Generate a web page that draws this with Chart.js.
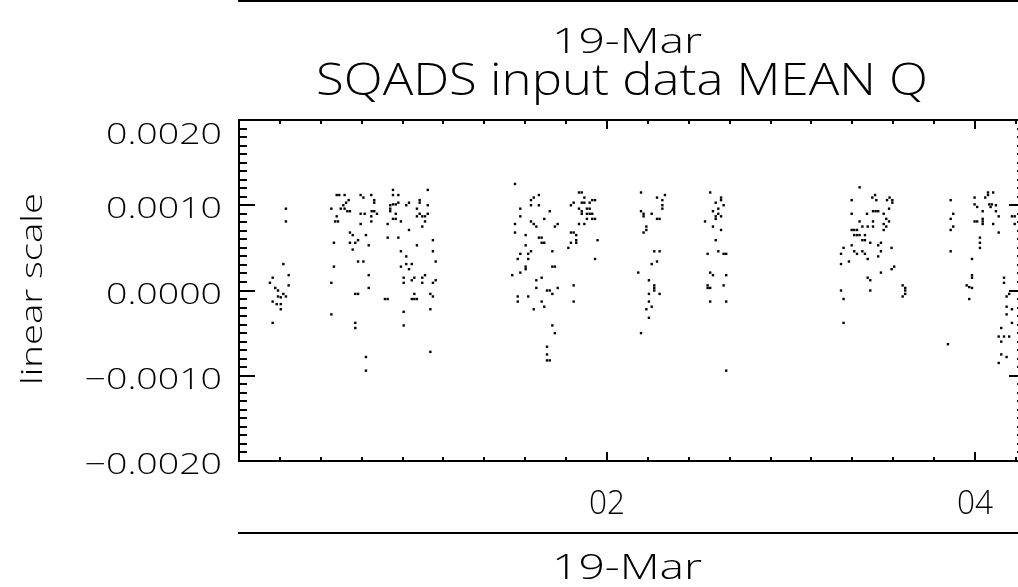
<!DOCTYPE html>
<html>
<head>
<meta charset="utf-8">
<title>SQADS input data MEAN Q</title>
<script src="https://cdn.jsdelivr.net/npm/chart.js@4.4.1/dist/chart.umd.min.js"></script>
<style>
  html, body { margin: 0; padding: 0; background: #fff; overflow: hidden; }
  #wrap { width: 1030px; height: 587px; }
</style>
</head>
<body>
<div id="wrap"><canvas id="chart" width="1030" height="587"></canvas></div>
<script>
const chartTitle = 'SQADS input data MEAN Q';
const dateLabel = '19-Mar';
const yAxisTitle = 'linear scale';
const yTickValues = [-0.002, -0.001, 0, 0.001, 0.002];
const yTickLabels = ['\u22120.0020', '\u22120.0010', '0.0000', '0.0010', '0.0020'];
const xTickValues = [2, 4];
const xTickLabels = ['02', '04'];
const xRange = [0, 4.272];
const yRange = [-0.002, 0.002];
const xMinorStep = 2 / 9;
const yMinorStep = 0.0001;

// observation time (hours of 19-Mar) and mean Q, one line per pass
const obsHours = [
  0.255, 0.255, 0.241, 0.270, 0.183, 0.168, 0.270, 0.197, 0.212, 0.241, 0.255, 0.212, 0.227, 0.183, 0.205, 0.227, 0.227, 0.183,
  0.531, 0.545, 0.574, 0.661, 0.676, 0.719, 0.596, 0.582, 0.567, 0.553, 0.574, 0.589, 0.603, 0.502, 0.531, 0.523, 0.538, 0.661, 0.683, 0.719, 0.719, 0.661, 0.603, 0.618, 0.690, 0.516, 0.603, 0.632, 0.647, 0.618, 0.705, 0.647, 0.676, 0.516, 0.502, 0.705, 0.705, 0.632, 0.647, 0.502, 0.632, 0.632, 0.690, 0.690,
  0.837, 0.837, 0.866, 1.026, 0.735, 0.735, 0.982, 0.982, 0.924, 0.909, 0.866, 0.822, 0.837, 0.852, 0.822, 0.822, 1.026, 0.967, 0.721, 0.735, 0.750, 0.852, 0.982, 0.996, 1.011, 1.026, 0.967, 0.837, 0.852, 0.880, 1.011, 0.808, 0.996, 0.924, 0.808, 0.866, 1.054, 0.967, 0.880, 1.054, 0.909, 1.069, 0.880, 0.909, 0.939, 0.924, 0.895, 0.953, 0.939, 0.996, 1.011, 1.069, 1.054, 0.895, 0.996, 0.793, 0.808, 0.953, 0.939, 0.953, 0.967, 1.040, 1.054, 1.040, 0.895, 0.895, 1.040,
  1.500, 1.630, 1.602, 1.587, 1.587, 1.630, 1.529, 1.689, 1.529, 1.659, 1.500, 1.587, 1.602, 1.616, 1.717, 1.732, 1.500, 1.558, 1.630, 1.645, 1.645, 1.659, 1.558, 1.587, 1.572, 1.703, 1.529, 1.515, 1.572, 1.558, 1.558, 1.703, 1.717, 1.529, 1.485, 1.645, 1.616, 1.616, 1.674, 1.689, 1.703, 1.732, 1.515, 1.572, 1.515, 1.645, 1.659, 1.602, 1.703, 1.717, 1.674, 1.674, 1.674, 1.689,
  1.848, 1.863, 1.877, 1.863, 1.877, 1.906, 1.920, 1.935, 1.819, 1.804, 1.848, 1.891, 1.906, 1.863, 1.863, 1.891, 1.906, 1.920, 1.891, 1.920, 1.935, 1.848, 1.877, 1.804, 1.819, 1.833, 1.833, 1.833, 1.804, 1.949, 1.790, 1.935, 1.819, 1.819,
  2.185, 2.272, 2.301, 2.315, 2.301, 2.301, 2.185, 2.199, 2.199, 2.243, 2.272, 2.286, 2.214, 2.214, 2.199, 2.257, 2.286, 2.272, 2.243, 2.170, 2.228, 2.257, 2.257, 2.257, 2.228, 2.286, 2.228, 2.243, 2.214, 2.228, 2.185,
  2.561, 2.620, 2.620, 2.591, 2.634, 2.605, 2.576, 2.605, 2.591, 2.591, 2.620, 2.533, 2.576, 2.620, 2.591, 2.605, 2.547, 2.634, 2.648, 2.561, 2.576, 2.648, 2.547, 2.547, 2.561, 2.634, 2.561, 2.648, 2.648,
  3.373, 3.330, 3.442, 3.457, 3.464, 3.522, 3.536, 3.551, 3.551, 3.533, 3.330, 3.413, 3.446, 3.460, 3.474, 3.504, 3.373, 3.446, 3.518, 3.533, 3.504, 3.388, 3.417, 3.446, 3.518, 3.504, 3.330, 3.344, 3.359, 3.344, 3.359, 3.373, 3.402, 3.388, 3.402, 3.431, 3.489, 3.474, 3.330, 3.286, 3.272, 3.344, 3.359, 3.388, 3.402, 3.489, 3.547, 3.417, 3.474, 3.315, 3.272, 3.489, 3.547, 3.561, 3.417, 3.431, 3.272, 3.431, 3.286, 3.286, 3.607, 3.621, 3.621, 3.621, 3.607,
  3.868, 3.882, 3.868, 3.882, 3.868, 3.868, 3.853,
  3.998, 4.056, 4.071, 4.071, 4.099, 3.998, 4.012, 4.042, 4.078, 4.092, 4.085, 4.114, 4.114, 4.129, 3.998, 4.012, 4.042, 4.042, 4.042, 4.099, 4.129, 4.027, 4.027, 4.027, 3.984, 3.984, 3.984, 3.955, 3.969, 3.984, 3.969,
  4.201, 4.216, 4.216, 4.158, 4.158, 4.172, 4.186, 4.172, 4.201, 4.172, 4.201, 4.143, 4.129, 4.158, 4.186, 4.143, 4.143, 4.172, 4.129
];
const meanQ = [
  0.00096, 0.00081, 0.00031, 0.00018, 0.00015, 0.00009, 0.00006, 0.00003, 0.00000, -0.00004, -0.00007, -0.00007, -0.00008, -0.00013, -0.00016, -0.00016, -0.00022, -0.00038,
  0.00112, 0.00112, 0.00112, 0.00112, 0.00109, 0.00112, 0.00106, 0.00103, 0.00100, 0.00096, 0.00096, 0.00093, 0.00093, 0.00096, 0.00087, 0.00081, 0.00081, 0.00090, 0.00090, 0.00087, 0.00081, 0.00078, 0.00068, 0.00065, 0.00065, 0.00056, 0.00056, 0.00056, 0.00059, 0.00048, 0.00053, 0.00034, 0.00034, 0.00028, 0.00009, 0.00018, 0.00003, -0.00004, -0.00004, -0.00028, -0.00038, -0.00044, -0.00078, -0.00094,
  0.00118, 0.00112, 0.00112, 0.00118, 0.00106, 0.00103, 0.00106, 0.00103, 0.00103, 0.00100, 0.00103, 0.00100, 0.00101, 0.00101, 0.00096, 0.00093, 0.00100, 0.00096, 0.00093, 0.00093, 0.00090, 0.00090, 0.00090, 0.00087, 0.00087, 0.00090, 0.00087, 0.00084, 0.00084, 0.00081, 0.00081, 0.00078, 0.00075, 0.00071, 0.00062, 0.00062, 0.00059, 0.00053, 0.00046, 0.00046, 0.00040, 0.00034, 0.00028, 0.00031, 0.00031, 0.00025, 0.00015, 0.00015, 0.00012, 0.00015, 0.00018, 0.00012, 0.00009, 0.00009, 0.00009, -0.00010, -0.00010, -0.00004, -0.00010, -0.00010, -0.00010, -0.00004, -0.00007, -0.00022, -0.00025, -0.00041, -0.00072,
  0.00125, 0.00112, 0.00109, 0.00106, 0.00100, 0.00100, 0.00096, 0.00093, 0.00087, 0.00084, 0.00078, 0.00081, 0.00078, 0.00075, 0.00075, 0.00078, 0.00068, 0.00065, 0.00062, 0.00062, 0.00056, 0.00056, 0.00053, 0.00046, 0.00043, 0.00046, 0.00043, 0.00037, 0.00037, 0.00028, 0.00025, 0.00028, 0.00028, 0.00021, 0.00018, 0.00015, 0.00012, 0.00003, 0.00000, 0.00000, -0.00004, 0.00003, -0.00007, -0.00007, -0.00013, -0.00013, -0.00019, -0.00022, -0.00041, -0.00050, -0.00066, -0.00075, -0.00082, -0.00082,
  0.00115, 0.00115, 0.00109, 0.00103, 0.00103, 0.00103, 0.00106, 0.00106, 0.00103, 0.00100, 0.00096, 0.00096, 0.00096, 0.00093, 0.00090, 0.00090, 0.00090, 0.00090, 0.00084, 0.00084, 0.00084, 0.00078, 0.00078, 0.00068, 0.00068, 0.00065, 0.00059, 0.00056, 0.00056, 0.00059, 0.00050, 0.00037, 0.00006, -0.00013,
  0.00115, 0.00109, 0.00106, 0.00112, 0.00100, 0.00096, 0.00093, 0.00090, 0.00087, 0.00090, 0.00084, 0.00084, 0.00075, 0.00071, 0.00068, 0.00046, 0.00046, 0.00034, 0.00031, 0.00021, 0.00012, 0.00006, 0.00003, 0.00000, -0.00004, -0.00004, -0.00013, -0.00019, -0.00022, -0.00032, -0.00050,
  0.00115, 0.00109, 0.00106, 0.00103, 0.00100, 0.00096, 0.00093, 0.00090, 0.00087, 0.00084, 0.00087, 0.00081, 0.00075, 0.00071, 0.00059, 0.00046, 0.00043, 0.00043, 0.00043, 0.00021, 0.00018, 0.00018, 0.00006, 0.00003, 0.00003, 0.00006, -0.00013, -0.00013, -0.00094,
  0.00121, 0.00106, 0.00109, 0.00112, 0.00106, 0.00106, 0.00109, 0.00106, 0.00103, 0.00096, 0.00090, 0.00090, 0.00093, 0.00093, 0.00093, 0.00090, 0.00081, 0.00081, 0.00084, 0.00081, 0.00078, 0.00075, 0.00075, 0.00075, 0.00075, 0.00071, 0.00071, 0.00071, 0.00071, 0.00065, 0.00065, 0.00065, 0.00065, 0.00059, 0.00059, 0.00056, 0.00056, 0.00053, 0.00053, 0.00050, 0.00043, 0.00046, 0.00043, 0.00046, 0.00043, 0.00046, 0.00050, 0.00037, 0.00040, 0.00034, 0.00031, 0.00021, 0.00025, 0.00028, 0.00015, 0.00012, 0.00000, 0.00000, -0.00010, -0.00038, 0.00006, 0.00003, 0.00000, -0.00004, -0.00007,
  0.00106, 0.00090, 0.00084, 0.00075, 0.00071, 0.00046, -0.00063,
  0.00109, 0.00109, 0.00112, 0.00115, 0.00115, 0.00101, 0.00098, 0.00093, 0.00101, 0.00101, 0.00098, 0.00100, 0.00093, 0.00087, 0.00081, 0.00081, 0.00084, 0.00081, 0.00078, 0.00078, 0.00068, 0.00062, 0.00056, 0.00050, 0.00037, 0.00018, 0.00015, 0.00006, 0.00004, 0.00003, -0.00010,
  0.00087, 0.00087, 0.00078, 0.00015, 0.00009, -0.00007, -0.00004, -0.00019, -0.00022, -0.00028, -0.00038, -0.00044, -0.00054, -0.00054, -0.00054, -0.00060, -0.00075, -0.00078, -0.00085
];

const FONT = '"Open Sans", "DejaVu Sans", sans-serif';

// text stretched horizontally to look like the wide IDL vector font
function drawText(ctx, text, x, y, size, opts) {
    ctx.save();
    ctx.font = `300 ${size}px ${FONT}`;
    const w = ctx.measureText(text).width;
    const sx = opts.width ? opts.width / w : (opts.sx || 1);
    ctx.translate(x, y);
    if (opts.rotate) ctx.rotate(opts.rotate);
    ctx.scale(sx, 1);
    ctx.textAlign = opts.align || 'center';
    ctx.textBaseline = 'alphabetic';
    ctx.fillStyle = '#000';
    ctx.fillText(text, 0, 0);
    ctx.restore();
}

const idlFrame = {
    id: 'idlFrame',
    afterDraw(chart) {
        const { ctx, chartArea: a, scales: { x, y } } = chart;
        ctx.save();
        ctx.strokeStyle = '#000';
        ctx.lineWidth = 2;

        ctx.beginPath();
        ctx.moveTo(a.left - 1, a.top); ctx.lineTo(a.right, a.top);
        ctx.moveTo(a.left - 1, a.bottom); ctx.lineTo(a.right, a.bottom);
        ctx.moveTo(a.left, a.top); ctx.lineTo(a.left, a.bottom);
        ctx.moveTo(a.right, a.top); ctx.lineTo(a.right, a.bottom);

        // y ticks, pointing inward on both sides
        for (let k = -20; k <= 20; k++) {
            const py = Math.round(y.getPixelForValue(k * yMinorStep));
            const len = k % 10 === 0 ? 16 : 8;
            ctx.moveTo(a.left, py); ctx.lineTo(a.left + len, py);
            ctx.moveTo(a.right, py); ctx.lineTo(a.right - len, py);
        }
        // x ticks, top and bottom
        for (let k = 0; k * xMinorStep <= xRange[1] + 1e-9; k++) {
            const px = Math.round(x.getPixelForValue(k * xMinorStep));
            const len = k % 9 === 0 ? 9 : 4;
            ctx.moveTo(px, a.bottom); ctx.lineTo(px, a.bottom - len);
            ctx.moveTo(px, a.top); ctx.lineTo(px, a.top + len);
        }
        ctx.stroke();

        // date axis lines above and below the plot
        ctx.beginPath();
        ctx.moveTo(a.left - 1, 1); ctx.lineTo(chart.width, 1);
        ctx.moveTo(a.left - 1, 533); ctx.lineTo(chart.width, 533);
        ctx.stroke();
        ctx.restore();

        // y tick labels
        ctx.save();
        ctx.font = `300 29px ${FONT}`;
        const labelSx = 116 / ctx.measureText('0.0020').width;
        ctx.restore();
        yTickValues.forEach((v, i) => {
            const py = y.getPixelForValue(v);
            const base = Math.max(py + 13, a.top + 24);
            drawText(ctx, yTickLabels[i], 222, base, 29, { sx: labelSx, align: 'right' });
        });

        // x tick labels
        xTickValues.forEach((v, i) => {
            drawText(ctx, xTickLabels[i], x.getPixelForValue(v), 514, 33, { width: 36 });
        });

        drawText(ctx, yAxisTitle, 42, 289, 29, { width: 192, rotate: -Math.PI / 2 });
        drawText(ctx, dateLabel, 627, 53, 34, { width: 150 });
        drawText(ctx, chartTitle, 622, 95, 44, { width: 612 });
        drawText(ctx, dateLabel, 627, 579, 34, { width: 150 });
    }
};

new Chart(document.getElementById('chart'), {
    type: 'scatter',
    data: {
        datasets: [{
            label: 'MEAN Q',
            data: obsHours.map((h, i) => ({ x: h, y: meanQ[i] })),
            pointStyle: 'rect',
            pointRadius: 1.7,
            pointBorderWidth: 0,
            backgroundColor: '#000',
            borderColor: '#000'
        }]
    },
    options: {
        responsive: false,
        animation: false,
        events: [],
        layout: { padding: { left: 239, right: 5, top: 120, bottom: 126 } },
        plugins: { legend: { display: false }, tooltip: { enabled: false }, title: { display: false } },
        scales: {
            x: { type: 'linear', display: false, min: xRange[0], max: xRange[1] },
            y: { type: 'linear', display: false, min: yRange[0], max: yRange[1] }
        }
    },
    plugins: [idlFrame]
});
</script>
</body>
</html>
